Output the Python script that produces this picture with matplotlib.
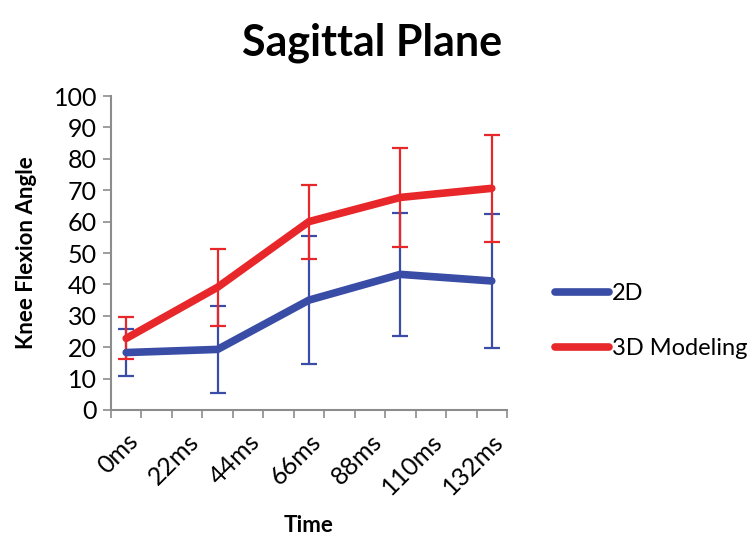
import matplotlib
matplotlib.use("Agg")
import matplotlib.pyplot as plt
from matplotlib.lines import Line2D
import numpy as np

plt.rcParams['font.family'] = ['Lato', 'DejaVu Sans']

categories = ['0ms', '11ms', '22ms', '33ms', '44ms', '55ms', '66ms', '77ms',
              '88ms', '99ms', '110ms', '121ms', '132ms']
shown_labels = ['0ms', '22ms', '44ms', '66ms', '88ms', '110ms', '132ms']
point_times = ['0ms', '33ms', '66ms', '99ms', '132ms']

values_2d = [18.3, 19.3, 35.0, 43.2, 41.1]
err_2d = [7.5, 13.8, 20.4, 19.6, 21.4]
values_3d = [22.8, 39.1, 60.0, 67.7, 70.6]
err_3d = [6.7, 12.2, 11.8, 15.9, 17.0]

blue = '#3A4DA6'
red = '#E8272A'
gray = '#8C8C8C'

fig = plt.figure(figsize=(7.56, 5.37), dpi=100)
ax = fig.add_axes([0.1468, 0.2365, 0.5238, 0.5847])

xpos = [categories.index(t) for t in point_times]

ax.errorbar(xpos, values_2d, yerr=err_2d, color=blue, lw=5.5, ecolor=blue,
            elinewidth=1.6, capsize=6, capthick=1.6, label='2D',
            solid_capstyle='round', zorder=3)
ax.errorbar(xpos, values_3d, yerr=err_3d, color=red, lw=5.5, ecolor=red,
            elinewidth=1.6, capsize=6, capthick=1.6, label='3D Modeling',
            solid_capstyle='round', zorder=3)

ax.set_xlim(-0.5, len(categories) - 0.5)
ax.set_ylim(0, 100)
ax.set_yticks(np.arange(0, 101, 10))
ax.tick_params(axis='y', labelsize=18, color=gray, length=6, width=1.2, pad=4)

ax.set_xticks(np.arange(-0.5, len(categories), 1.0), minor=True)
ax.tick_params(axis='x', which='minor', color=gray, length=6, width=1.2)
major_pos = [categories.index(c) for c in shown_labels]
ax.set_xticks(major_pos)
ax.set_xticklabels(shown_labels, rotation=45, ha='right', rotation_mode='anchor',
                   fontsize=18)
ax.tick_params(axis='x', which='major', length=0, pad=14)

for s in ['top', 'right']:
    ax.spines[s].set_visible(False)
for s in ['left', 'bottom']:
    ax.spines[s].set_color(gray)
    ax.spines[s].set_linewidth(1.5)

ax.set_ylabel('Knee Flexion Angle', fontsize=16, fontweight='bold', labelpad=12)
ax.set_xlabel('Time', fontsize=16, fontweight='bold', labelpad=12)

fig.text(0.492, 0.92, 'Sagittal Plane', fontsize=31, fontweight='bold',
         ha='center', va='center')

h = [Line2D([], [], color=blue, lw=5.5, solid_capstyle='round'),
     Line2D([], [], color=red, lw=5.5, solid_capstyle='round')]
fig.legend(h, ['2D', '3D Modeling'], loc='center left',
           bbox_to_anchor=(0.734, 0.402), frameon=False, fontsize=17,
           handlelength=2.3, handletextpad=0.1, labelspacing=1.45,
           borderpad=0, borderaxespad=0)

fig.savefig('out.png', dpi=100)
